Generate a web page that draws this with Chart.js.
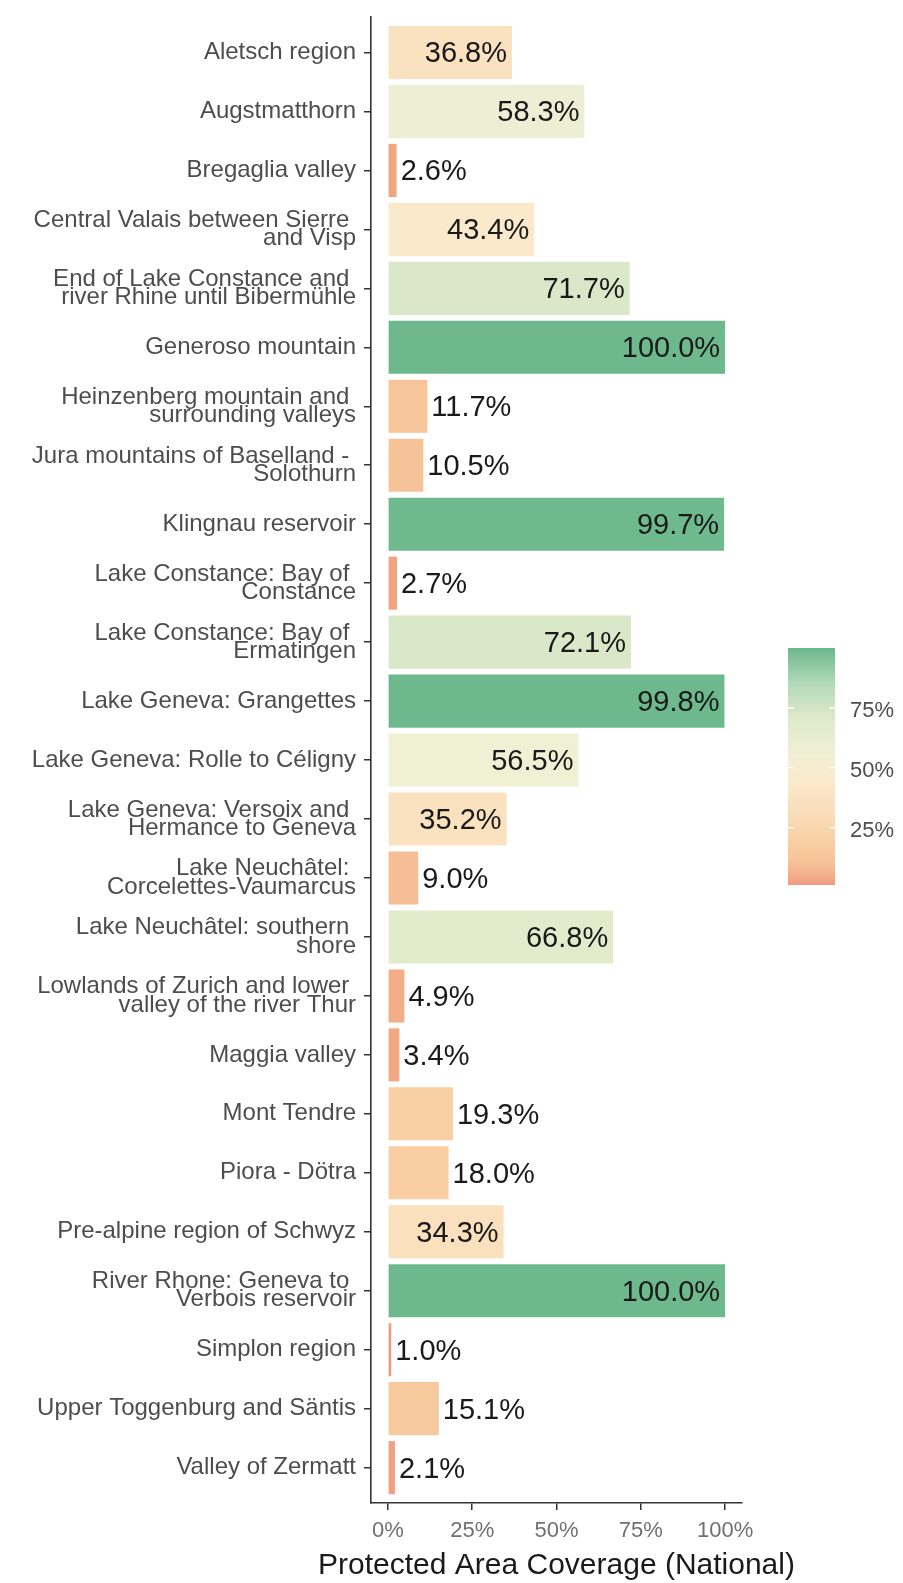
<!DOCTYPE html>
<html>
<head>
<meta charset="utf-8">
<script src="https://cdn.jsdelivr.net/npm/chart.js@4"></script>
<style>
  html, body { margin: 0; padding: 0; background: #fff; }
  canvas { display: block; }
</style>
</head>
<body>
<canvas id="chart" width="903" height="1583"></canvas>
<script>
// Data
const regions = [
  'Aletsch region',
  'Augstmatthorn',
  'Bregaglia valley',
  ['Central Valais between Sierre ', 'and Visp'],
  ['End of Lake Constance and ', 'river Rhine until Bibermühle'],
  'Generoso mountain',
  ['Heinzenberg mountain and ', 'surrounding valleys'],
  ['Jura mountains of Baselland - ', 'Solothurn'],
  'Klingnau reservoir',
  ['Lake Constance: Bay of ', 'Constance'],
  ['Lake Constance: Bay of ', 'Ermatingen'],
  'Lake Geneva: Grangettes',
  'Lake Geneva: Rolle to Céligny',
  ['Lake Geneva: Versoix and ', 'Hermance to Geneva'],
  ['Lake Neuchâtel: ', 'Corcelettes-Vaumarcus'],
  ['Lake Neuchâtel: southern ', 'shore'],
  ['Lowlands of Zurich and lower ', 'valley of the river Thur'],
  'Maggia valley',
  'Mont Tendre',
  'Piora - Dötra',
  'Pre-alpine region of Schwyz',
  ['River Rhone: Geneva to ', 'Verbois reservoir'],
  'Simplon region',
  'Upper Toggenburg and Säntis',
  'Valley of Zermatt'
];
const coverage = [36.8, 58.3, 2.6, 43.4, 71.7, 100.0, 11.7, 10.5, 99.7, 2.7, 72.1, 99.8, 56.5,
                  35.2, 9.0, 66.8, 4.9, 3.4, 19.3, 18.0, 34.3, 100.0, 1.0, 15.1, 2.1];
const xTicks = [0, 25, 50, 75, 100];
const legendTicks = [25, 50, 75];
const xTitle = 'Protected Area Coverage (National)';

// fill scale (value -> colour)
const colorStops = [
  [0, '#ee9683'], [3, '#f2a680'], [10, '#f6c298'], [17, '#f8cda0'], [30, '#f9dcb7'],
  [45, '#fbeacd'], [57, '#eff0d5'], [70, '#dfeacb'], [85, '#b3dab8'], [100, '#6db88d']
];

function hexToRgb(h) {
  return [1, 3, 5].map(i => parseInt(h.slice(i, i + 2), 16));
}

function colorFor(v) {
  for (let i = 1; i < colorStops.length; i++) {
    const [v1, c1] = colorStops[i];
    if (v <= v1) {
      const [v0, c0] = colorStops[i - 1];
      const t = (v - v0) / (v1 - v0);
      const a = hexToRgb(c0), b = hexToRgb(c1);
      const rgb = a.map((x, k) => Math.round(x + (b[k] - x) * t));
      return `rgb(${rgb.join(',')})`;
    }
  }
  return colorStops[colorStops.length - 1][1];
}

const FONT = '"Liberation Sans", Arial, sans-serif';
Chart.defaults.font.family = FONT;

// value labels next to / inside the bars
const valueLabels = {
  id: 'valueLabels',
  afterDatasetsDraw(chart) {
    const { ctx } = chart;
    const meta = chart.getDatasetMeta(0);
    ctx.save();
    ctx.font = '29px ' + FONT;
    ctx.fillStyle = '#1a1a1a';
    ctx.textBaseline = 'middle';
    meta.data.forEach((bar, i) => {
      const v = coverage[i];
      const txt = v.toFixed(1) + '%';
      if (v >= 30) {
        ctx.textAlign = 'right';
        ctx.fillText(txt, bar.x - 5, bar.y + 2);
      } else {
        ctx.textAlign = 'left';
        ctx.fillText(txt, bar.x + 4, bar.y + 2);
      }
    });
    ctx.restore();
  }
};

// x axis title (drawn by hand so it is not squeezed to the axis width)
const axisTitle = {
  id: 'axisTitle',
  afterDraw(chart) {
    const { ctx, chartArea } = chart;
    ctx.save();
    ctx.font = '30px ' + FONT;
    ctx.fillStyle = '#1a1a1a';
    ctx.textAlign = 'center';
    ctx.textBaseline = 'middle';
    ctx.fillText(xTitle, (chartArea.left + chartArea.right) / 2, 1566);
    ctx.restore();
  }
};

// colourbar legend
const colorBar = {
  id: 'colorBar',
  afterDraw(chart) {
    const { ctx } = chart;
    const x0 = 788, x1 = 835, yTop = 648, yBot = 885;
    const vMin = Math.min(...coverage), vMax = Math.max(...coverage);
    const yFor = v => yBot - (v - vMin) / (vMax - vMin) * (yBot - yTop);
    ctx.save();
    const grad = ctx.createLinearGradient(0, yBot, 0, yTop);
    for (let s = 0; s <= 20; s++) {
      const v = vMin + (vMax - vMin) * s / 20;
      grad.addColorStop(s / 20, colorFor(v));
    }
    ctx.fillStyle = grad;
    ctx.fillRect(x0, yTop, x1 - x0, yBot - yTop);
    ctx.strokeStyle = '#ffffff';
    ctx.lineWidth = 1.2;
    ctx.font = '22px ' + FONT;
    ctx.fillStyle = '#4d4d4d';
    ctx.textAlign = 'left';
    ctx.textBaseline = 'middle';
    for (const t of legendTicks) {
      const y = yFor(t);
      ctx.beginPath();
      ctx.moveTo(x0, y); ctx.lineTo(x0 + 6, y);
      ctx.moveTo(x1 - 6, y); ctx.lineTo(x1, y);
      ctx.stroke();
      ctx.fillText(t + '%', 850, y + 3);
    }
    ctx.restore();
  }
};

new Chart(document.getElementById('chart'), {
  type: 'bar',
  data: {
    datasets: [{
      data: coverage.map((v, i) => ({ x: v, y: i })),
      backgroundColor: coverage.map(colorFor),
      borderWidth: 0,
      barPercentage: 0.9,
      categoryPercentage: 1.0
    }]
  },
  options: {
    indexAxis: 'y',
    responsive: false,
    animation: false,
    layout: { padding: { top: 13, right: 161, left: 0, bottom: 0 } },
    plugins: { legend: { display: false }, tooltip: { enabled: false } },
    scales: {
      x: {
        type: 'linear',
        position: 'bottom',
        min: -5,
        max: 105,
        afterBuildTicks: s => { s.ticks = xTicks.map(v => ({ value: v })); },
        afterFit: s => { s.height = 80; },
        grid: { drawOnChartArea: false, tickLength: 7, color: '#333333', lineWidth: 1.5 },
        border: { display: true, color: '#333333', width: 1.6 },
        ticks: {
          callback: v => v + '%',
          color: '#707070',
          font: { size: 22 },
          padding: 8,
          maxRotation: 0
        },
        title: { display: false }
      },
      y: {
        type: 'linear',
        reverse: true,
        offset: false,
        min: -0.6,
        max: regions.length - 0.4,
        afterBuildTicks: s => { s.ticks = regions.map((r, i) => ({ value: i })); },
        afterFit: s => { s.width = 371; },
        grid: { offset: false, drawOnChartArea: false, tickLength: 7, color: '#333333', lineWidth: 1.5 },
        border: { display: true, color: '#333333', width: 1.6 },
        ticks: {
          callback: v => regions[v],
          color: '#4d4d4d',
          font: { size: 24, lineHeight: 0.76 },
          padding: 8,
          autoSkip: false
        }
      }
    }
  },
  plugins: [valueLabels, colorBar, axisTitle]
});
</script>
</body>
</html>
